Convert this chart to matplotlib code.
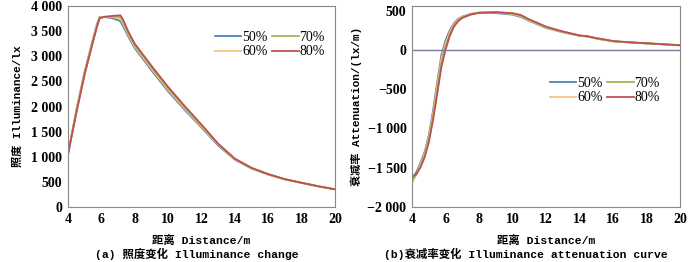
import matplotlib.pyplot as plt
from matplotlib.ticker import FuncFormatter

plt.rcParams['font.family'] = ['Liberation Serif', 'Noto Sans CJK SC']

labels = ["50%", "60%", "70%", "80%"]
colors = ["#4f81bd", "#f6c47e", "#9bbb59", "#c0504d"]

# illuminance (lx) vs distance (m)
x_ill = [4, 4.5, 5, 5.5, 5.75, 5.9, 6.2, 6.6, 7.0, 7.15, 7.3, 7.6, 8, 9, 10, 11, 12, 13, 14, 15, 16, 17, 18, 19, 20]
ill_50 = [1050, 1930, 2700, 3350, 3660, 3785, 3780, 3760, 3720, 3690, 3600, 3400, 3160, 2720, 2300, 1930, 1580, 1220, 940, 765, 645, 548, 480, 412, 352]
ill_60 = [1050, 1910, 2680, 3330, 3640, 3775, 3785, 3780, 3760, 3740, 3650, 3440, 3190, 2750, 2330, 1955, 1600, 1235, 948, 770, 650, 550, 480, 412, 352]
ill_70 = [1050, 1890, 2660, 3310, 3620, 3765, 3785, 3790, 3790, 3780, 3690, 3470, 3220, 2780, 2360, 1980, 1620, 1248, 955, 775, 652, 552, 481, 412, 352]
ill_80 = [1050, 1870, 2640, 3290, 3600, 3755, 3785, 3800, 3812, 3812, 3730, 3500, 3250, 2810, 2390, 2005, 1640, 1260, 962, 780, 655, 554, 482, 412, 352]

# attenuation (lx/m) vs distance (m)
x_att = [4, 4.25, 4.5, 4.75, 5, 5.25, 5.5, 5.75, 6, 6.25, 6.5, 6.75, 7, 7.5, 8, 9, 10, 10.5, 11, 12, 13, 14, 14.5, 15, 16, 17, 18, 19, 20]
att_50 = [-1640, -1560, -1440, -1300, -1090, -780, -420, -70, 120, 250, 340, 395, 425, 460, 475, 470, 450, 420, 370, 280, 225, 180, 170, 145, 110, 95, 83, 72, 60]
att_60 = [-1700, -1590, -1460, -1320, -1120, -820, -470, -120, 80, 225, 325, 385, 420, 458, 477, 478, 458, 428, 375, 285, 228, 182, 170, 148, 111, 96, 84, 72, 60]
att_70 = [-1660, -1590, -1480, -1340, -1150, -860, -520, -170, 40, 200, 310, 375, 415, 455, 477, 485, 462, 435, 382, 290, 232, 184, 172, 150, 112, 97, 85, 72, 60]
att_80 = [-1620, -1580, -1500, -1370, -1180, -900, -570, -220, 0, 175, 295, 365, 408, 450, 472, 480, 470, 445, 390, 298, 236, 186, 174, 152, 114, 98, 86, 73, 60]

def fmt(v, pos):
    s = f"{abs(int(round(v))):,}".replace(",", " ")
    return ("\u2212" + s) if v < 0 else s

fig = plt.figure(figsize=(7, 2.62), dpi=100)
ax1 = fig.add_axes([68 / 700, 55 / 262, 267 / 700, 201 / 262])
ax2 = fig.add_axes([412 / 700, 55 / 262, 268 / 700, 201 / 262])

for ys, lab, c in zip([ill_50, ill_60, ill_70, ill_80], labels, colors):
    ax1.plot(x_ill, ys, color=c, lw=1.3, label=lab)
for ys, lab, c in zip([att_50, att_60, att_70, att_80], labels, colors):
    ax2.plot(x_att, ys, color=c, lw=1.3, label=lab)
ax2.axhline(0, color="#7a7a9a", lw=1.0)

ax1.set_xlim(4, 20)
ax1.set_ylim(0, 4000)
ax1.set_yticks(range(0, 4001, 500))
ax2.set_xlim(4, 20)
ax2.set_ylim(-2000, 560)
ax2.set_yticks(range(-2000, 501, 500))

mono = ['Liberation Mono', 'Noto Sans CJK SC']
leg_kw = dict(ncol=2, frameon=False, handlelength=1.9, handletextpad=0.05,
              columnspacing=0.35, labelspacing=0.1, borderaxespad=0, borderpad=0,
              prop={'family': 'Liberation Serif', 'size': 10})
for ax in (ax1, ax2):
    ax.set_xticks(range(4, 21, 2))
    ax.yaxis.set_major_formatter(FuncFormatter(fmt))
    ax.tick_params(direction="in", length=0, labelsize=10, pad=4)
    for lbl in ax.get_xticklabels() + ax.get_yticklabels():
        lbl.set_fontweight("bold")
    for sp in ax.spines.values():
        sp.set_color("#888888")
        sp.set_linewidth(0.8)
    ax.set_xlabel("距离 Distance/m", family=mono, fontsize=8.2, fontweight="bold", labelpad=7)

ax1.legend(loc="upper left", bbox_to_anchor=((215 - 68) / 267, (206 - 30) / 201), **leg_kw)
ax2.legend(loc="upper left", bbox_to_anchor=((550 - 412) / 268, (206 - 76) / 201), **leg_kw)

ax1.set_ylabel("照度 Illuminance/lx", family=mono, fontsize=8, fontweight="bold", labelpad=6)
ax2.set_ylabel("衰减率 Attenuation/(lx/m)", family=mono, fontsize=8, fontweight="bold", labelpad=4)

fig.text(197 / 700, 1 - 254 / 262, "(a) 照度变化 Illuminance change", family=mono,
         fontsize=8.2, fontweight="bold", ha="center", va="center")
fig.text(526 / 700, 1 - 254 / 262, "(b)衰减率变化 Illuminance attenuation curve", family=mono,
         fontsize=8.2, fontweight="bold", ha="center", va="center")

fig.savefig("out.png", dpi=100)
